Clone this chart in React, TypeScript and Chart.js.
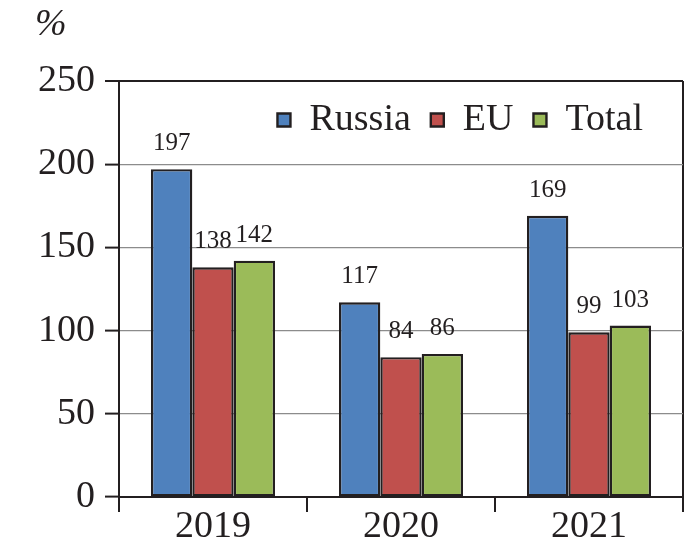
import React, { useEffect, useRef } from "react";
import { Chart, registerables } from "chart.js";

Chart.register(...registerables);

const YEARS = ["2019", "2020", "2021"];
const SERIES_NAMES = ["Russia", "EU", "Total"];
const RUSSIA = [197, 117, 169];
const EU = [138, 84, 99];
const TOTAL = [142, 86, 103];
const Y_MIN = 0;
const Y_MAX = 250;
const Y_STEP = 50;
const UNIT = "%";

const FONT = "'Liberation Serif', 'Times New Roman', serif";
const DARK = "#231f20";
const GRID = "#8c8c8c";
const COLORS = ["#4f81bd", "#c0504d", "#9bbb59"];

const valueLabels = {
  id: "valueLabels",
  afterDatasetsDraw(chart: any) {
    const ctx = chart.ctx;
    ctx.save();
    ctx.font = `25px ${FONT}`;
    ctx.fillStyle = DARK;
    ctx.textAlign = "center";
    ctx.textBaseline = "alphabetic";
    chart.data.datasets.forEach((ds: any, i: number) => {
      const meta = chart.getDatasetMeta(i);
      meta.data.forEach((el: any, j: number) => {
        ctx.fillText(String(ds.data[j]), el.x, el.y - 19);
      });
    });
    ctx.restore();
  },
};

const unitLabel = {
  id: "unitLabel",
  afterDraw(chart: any) {
    const ctx = chart.ctx;
    ctx.save();
    ctx.font = `italic 38px ${FONT}`;
    ctx.fillStyle = DARK;
    ctx.textAlign = "left";
    ctx.textBaseline = "alphabetic";
    ctx.fillText(UNIT, 35, 35);
    ctx.restore();
  },
};

const legendInside = {
  id: "legendInside",
  afterLayout(chart: any) {
    const lg = chart.legend;
    if (!lg) return;
    const h = lg.bottom - lg.top;
    lg.top = chart.chartArea.top;
    lg.bottom = lg.top + h;
    lg.right = chart.chartArea.right - 20;
  },
};

export default function App() {
  const ref = useRef<HTMLCanvasElement | null>(null);

  useEffect(() => {
    document.body.style.margin = "0";
    if (!ref.current) return;
    const seriesData = [RUSSIA, EU, TOTAL];
    const chart = new Chart(ref.current, {
      type: "bar",
      data: {
        labels: YEARS,
        datasets: SERIES_NAMES.map((name, i) => ({
          label: name,
          data: seriesData[i],
          backgroundColor: COLORS[i],
          borderColor: DARK,
          borderWidth: 2.4,
          borderSkipped: false,
        })),
      },
      options: {
        responsive: false,
        animation: false,
        devicePixelRatio: 1,
        layout: { padding: { top: 13, right: 2, left: 0, bottom: 0 } },
        datasets: { bar: { categoryPercentage: 0.66, barPercentage: 1 } },
        plugins: {
          legend: {
            position: "top",
            align: "end",
            labels: {
              boxWidth: 13,
              boxHeight: 13,
              padding: 20,
              color: DARK,
              font: { family: FONT, size: 38 },
            },
          },
          tooltip: { enabled: false },
        },
        scales: {
          x: {
            grid: {
              offset: true,
              drawOnChartArea: true,
              color: (c: any) => (c.index === undefined ? DARK : "rgba(0,0,0,0)"),
              lineWidth: 2,
              tickColor: DARK,
              tickLength: 15,
              tickWidth: 2,
            },
            border: { color: DARK, width: 2 },
            ticks: { color: DARK, font: { family: FONT, size: 38 }, padding: -8 },
            afterFit: (s: any) => {
              s.height = 54;
            },
          },
          y: {
            min: Y_MIN,
            max: Y_MAX,
            ticks: {
              stepSize: Y_STEP,
              color: DARK,
              font: { family: FONT, size: 38 },
              padding: 10,
            },
            grid: {
              color: (c: any) => (c.tick && c.tick.value === Y_MAX ? DARK : GRID),
              lineWidth: (c: any) => (c.tick && c.tick.value === Y_MAX ? 2 : 1.2),
              tickColor: DARK,
              tickLength: 14,
              tickWidth: 2,
            },
            border: { color: DARK, width: 2 },
            afterFit: (s: any) => {
              s.width = 119;
            },
          },
        },
      },
      plugins: [valueLabels, unitLabel, legendInside],
    } as any);
    return () => chart.destroy();
  }, []);

  return (
    <div style={{ width: 685, height: 551, background: "#fff" }}>
      <canvas ref={ref} width={685} height={551} />
    </div>
  );
}
